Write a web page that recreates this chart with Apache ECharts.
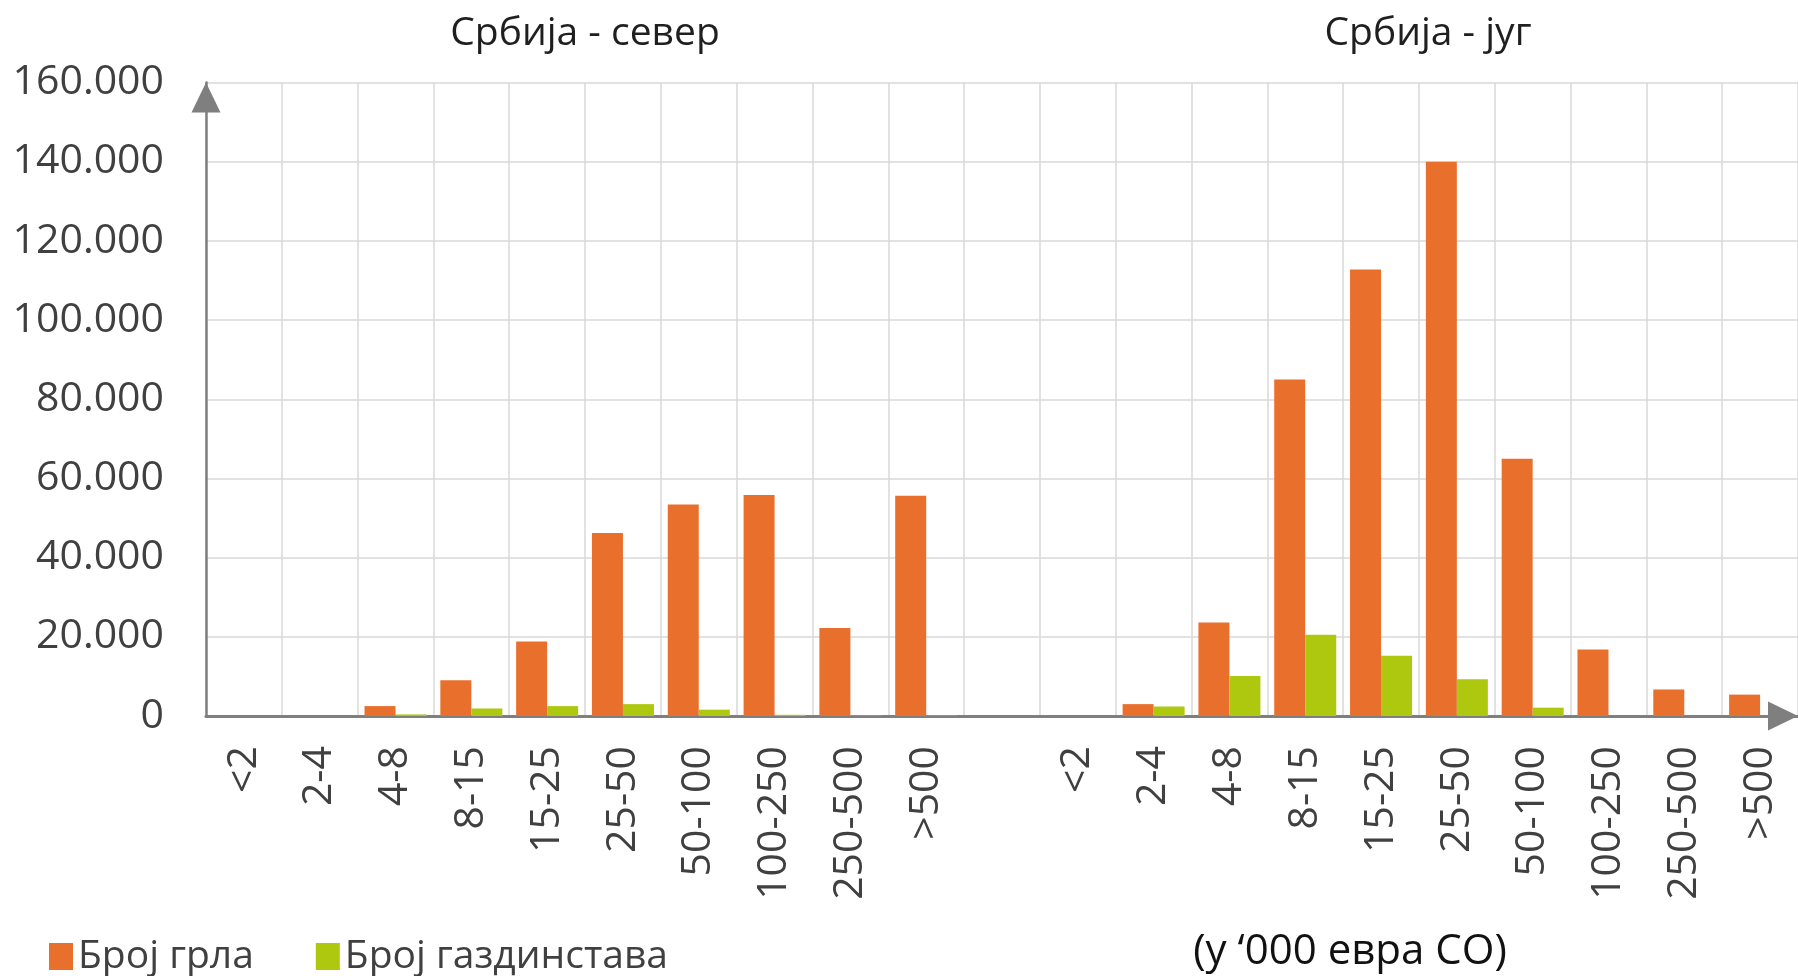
<!DOCTYPE html>
<html>
<head>
<meta charset="utf-8">
<title>Србија - север / југ</title>
<script src="https://cdn.jsdelivr.net/npm/echarts@6/dist/echarts.min.js"></script>
<style>
    html, body { margin: 0; padding: 0; background: #fff; }
    #main { width: 1798px; height: 976px; }
</style>
</head>
<body>
<div id="main"></div>
<script>
//класе (у '000 евра СО)
var classes = ['<2', '2-4', '4-8', '8-15', '15-25', '25-50', '50-100', '100-250', '250-500', '>500'];
//Србија - север
var northHeads = [0, 0, 2500, 9000, 18800, 46200, 53400, 55800, 22200, 55600];
var northFarms = [0, 0, 400, 1900, 2500, 3000, 1600, 300, 100, 100];
//Србија - југ
var southHeads = [0, 3000, 23600, 85000, 112800, 140000, 65000, 16800, 6700, 5400];
var southFarms = [0, 2400, 10100, 20500, 15200, 9300, 2100, 0, 0, 0];
var yTicks = [0, 20000, 40000, 60000, 80000, 100000, 120000, 140000, 160000];

var seriesNames = ['Број грла', 'Број газдинстава'];
var colors = ['#E96F2D', '#AEC70F'];
var font = '"Open Sans", "Noto Sans", sans-serif';

//две групе на једној оси, са празном класом између
var categories = classes.concat(['']).concat(classes);
var headsData = northHeads.concat(['-']).concat(southHeads);
var farmsData = northFarms.concat(['-']).concat(southFarms);

function thousands(v) {
    return String(v).replace(/\B(?=(\d{3})+(?!\d))/g, '.');
}

var chart = echarts.init(document.getElementById('main'), null, {renderer: 'canvas'});
var option = {
    animation: false,
    backgroundColor: '#ffffff',
    color: colors,
    grid: {
        left: 206,
        right: -10,
        top: 82.5,
        bottom: 260
    },
    legend: {
        data: seriesNames,
        left: 44,
        top: 932,
        icon: 'rect',
        itemWidth: 24,
        itemHeight: 27,
        itemGap: 62,
        textStyle: {
            fontFamily: font,
            fontSize: 39,
            color: '#404040'
        }
    },
    graphic: [
        {type: 'text', x: 585, y: 34, style: {text: 'Србија - север', font: '39px ' + font, fill: '#1f1f1f', textAlign: 'center', textVerticalAlign: 'middle'}},
        {type: 'text', x: 1428, y: 34, style: {text: 'Србија - југ', font: '39px ' + font, fill: '#1f1f1f', textAlign: 'center', textVerticalAlign: 'middle'}},
        {type: 'text', x: 1350, y: 952, style: {text: '(у ‘000 евра СО)', font: '42px ' + font, fill: '#111111', textAlign: 'center', textVerticalAlign: 'middle'}}
    ],
    xAxis: {
        type: 'category',
        data: categories,
        axisLine: {
            symbol: ['none', 'triangle'],
            symbolSize: [29, 30],
            symbolOffset: [0, -15],
            lineStyle: {color: '#7f7f7f', width: 3}
        },
        axisTick: {show: false},
        axisLabel: {
            interval: 0,
            rotate: 90,
            margin: 30,
            fontFamily: font,
            fontSize: 41,
            color: '#404040'
        },
        splitLine: {
            show: true,
            interval: 0,
            lineStyle: {color: '#d9d9d9', width: 1.5}
        }
    },
    yAxis: {
        type: 'value',
        min: yTicks[0],
        max: yTicks[yTicks.length - 1],
        interval: yTicks[1] - yTicks[0],
        axisLine: {
            show: true,
            symbol: ['none', 'triangle'],
            symbolSize: [29, 30],
            symbolOffset: [0, -15],
            lineStyle: {color: '#7f7f7f', width: 2.5}
        },
        axisTick: {show: false},
        axisLabel: {
            margin: 42,
            fontFamily: font,
            fontSize: 41,
            color: '#404040',
            formatter: thousands
        },
        splitLine: {
            lineStyle: {color: '#d9d9d9', width: 1.5}
        }
    },
    series: [{
        name: seriesNames[0],
        type: 'bar',
        barWidth: 31,
        barGap: '0%',
        data: headsData
    }, {
        name: seriesNames[1],
        type: 'bar',
        barWidth: 31,
        barGap: '0%',
        data: farmsData
    }]
};
chart.setOption(option);
</script>
</body>
</html>
